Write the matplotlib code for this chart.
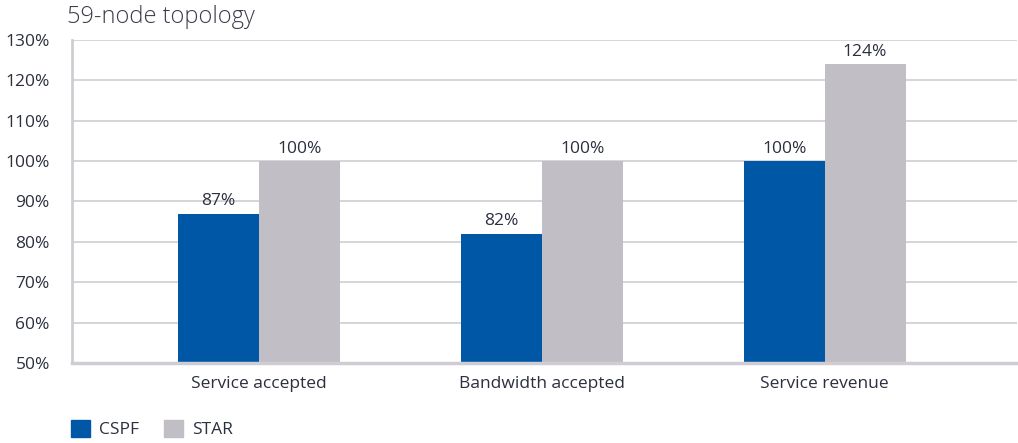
import matplotlib
matplotlib.use("Agg")
import matplotlib.pyplot as plt
import numpy as np
from matplotlib.patches import Patch

categories = ["Service accepted", "Bandwidth accepted", "Service revenue"]
cspf = [87, 82, 100]
star = [100, 100, 124]
series_names = ["CSPF", "STAR"]
yticks = [50, 60, 70, 80, 90, 100, 110, 120, 130]

blue = "#0057A5"
grey = "#C1BFC5"
text_c = "#2B2F3E"
grid_c = "#CFCDD3"

plt.rcParams['font.family'] = ['Open Sans', 'DejaVu Sans']

fig = plt.figure(figsize=(10.18, 4.43), dpi=100)
ax = fig.add_axes([72/1018, 1-363/443, (1017-72)/1018, (363-40)/443])

x = np.arange(len(categories))
w = 0.286
ax.bar(x - w/2, [v - 50 for v in cspf], w, bottom=50, color=blue, zorder=3)
ax.bar(x + w/2, [v - 50 for v in star], w, bottom=50, color=grey, zorder=3)

for xs, vals in ((x - w/2, cspf), (x + w/2, star)):
    for xi, v in zip(xs, vals):
        ax.text(xi, v + 1.1, f"{v}%", ha="center", va="bottom", fontsize=12.5, color=text_c)

ax.set_xlim(-0.66, 2.68)
ax.set_ylim(50, 130)
ax.set_yticks(yticks)
ax.set_yticklabels([f"{t}%" for t in yticks], fontsize=12.5, color=text_c)
ax.set_xticks(x)
ax.set_xticklabels(categories, fontsize=12.5, color=text_c)
ax.tick_params(axis="x", length=0, pad=9)
ax.tick_params(axis="y", length=0, pad=16)
ax.grid(axis="y", color=grid_c, linewidth=1.2, zorder=0)
for s in ("top", "right"):
    ax.spines[s].set_visible(False)
ax.spines["left"].set_color(grid_c)
ax.spines["left"].set_linewidth(2)
ax.spines["bottom"].set_color(grid_c)
ax.spines["bottom"].set_linewidth(2.5)
ax.spines["bottom"].set_zorder(4)

fig.text(67/1018, 1-17/443, "59-node topology", fontsize=17, fontweight="light",
         color="#3A3D4A", ha="left", va="center")

handles = [Patch(color=blue), Patch(color=grey)]
fig.legend(handles, series_names, loc="center left", bbox_to_anchor=(55/1018, 1-429/443),
           ncol=2, frameon=False, fontsize=12.5, handlelength=1.1, handleheight=1.1,
           columnspacing=1.4, handletextpad=0.55, labelcolor=text_c)

fig.savefig("out.png", dpi=100)
